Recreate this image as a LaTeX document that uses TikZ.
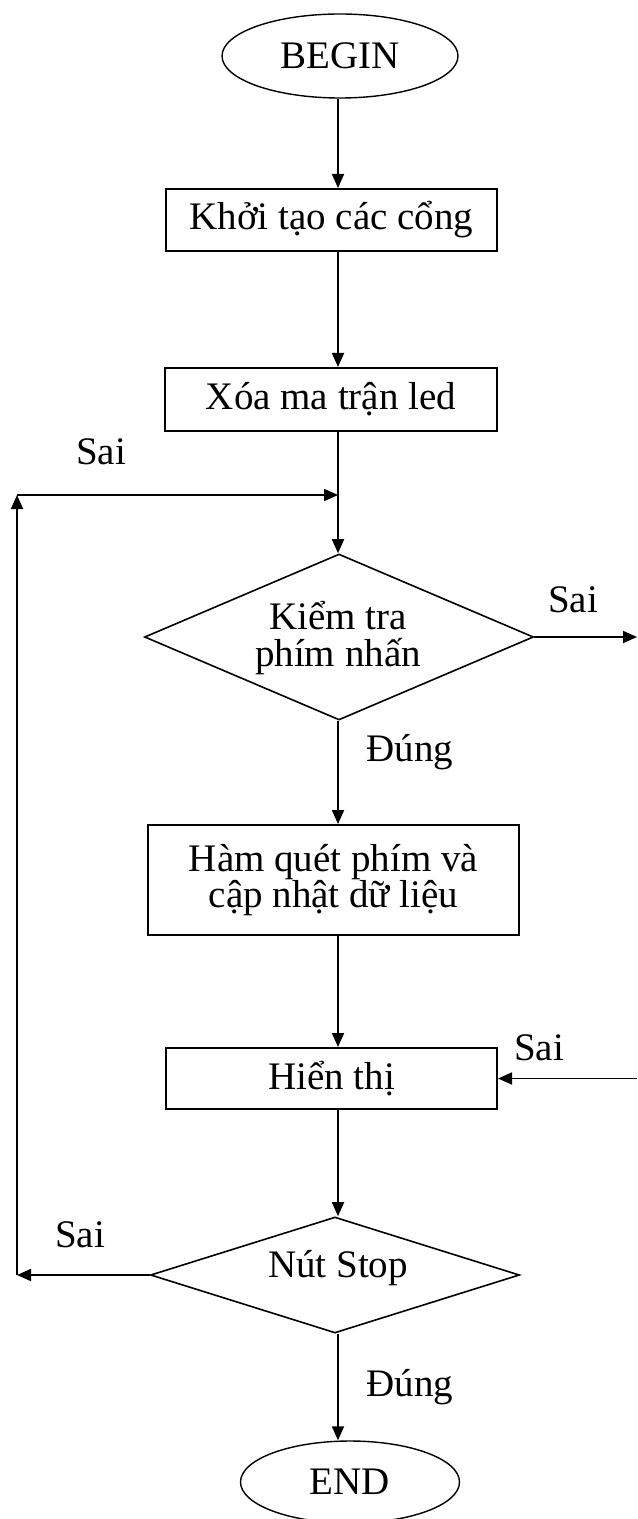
\documentclass[tikz,border=0pt]{standalone}
\usepackage{fontspec}
\setmainfont{Liberation Serif}
\usetikzlibrary{shapes.geometric,arrows.meta}
\begin{document}
\begin{tikzpicture}[x=0.5pt,y=-0.5pt,
  every node/.style={font=\fontsize{19.5}{21}\selectfont, inner sep=0pt},
  box/.style={draw, line width=1pt, align=center},
  term/.style={ellipse, draw, line width=0.7pt},
  decision/.style={diamond, draw, line width=0.8pt, align=center},
  arr/.style={-{Triangle[length=7pt,width=6pt]}, line width=0.9pt},
  lbl/.style={font=\fontsize{19.5}{21}\selectfont}]
\useasboundingbox (0,0) rectangle (637,1519);
% nodes
\node[term, minimum width=118pt, minimum height=42pt] (begin) at (340,56) {BEGIN};
\node[box, minimum width=165.5pt, minimum height=31pt] (b1) at (331.5,220) {Khởi tạo các cổng};
\node[box, minimum width=166pt, minimum height=31.5pt] (b2) at (331,399.5) {Xóa ma trận led};
\node[decision, minimum width=194.5pt, minimum height=83pt] (d1) at (339,637) {};
\node[font=\fontsize{19.5}{18.5}\selectfont, align=center] (d1t) at (338,638) {Kiểm tra\\phím nhấn};
\node[box, minimum width=185.5pt, minimum height=55pt, font=\fontsize{19.5}{18}\selectfont] (b3) at (333.5,880) {Hàm quét phím và\\cập nhật dữ liệu};
\node[box, minimum width=165.5pt, minimum height=30.5pt] (b4) at (331.5,1078.5) {Hiển thị};
\node[decision, minimum width=184.5pt, minimum height=58pt] (d2) at (335,1275) {};
\node (d2t) at (338,1268) {Nút Stop};
\node[term, minimum width=109.5pt, minimum height=41pt] (end) at (350,1482) {END};
% coordinates
\coordinate (ax1) at (338,495);
\coordinate (cT) at (17,495);
\coordinate (cL) at (17,1275);
\coordinate (rOut) at (637,637);
\coordinate (rIn) at (637,1078.5);
% connectors
\draw[arr] (begin.south -| ax1) -- (b1.north -| ax1);
\draw[arr] (b1.south -| ax1) -- (b2.north -| ax1);
\draw[arr] (b2.south -| ax1) -- (d1.north -| ax1);
\draw[arr] (d1.south -| ax1) -- (b3.north -| ax1);
\draw[arr] (b3.south -| ax1) -- (b4.north -| ax1);
\draw[arr] (b4.south -| ax1) -- (d2.north -| ax1);
\draw[arr] (d2.south -| ax1) -- (end.north -| ax1);
\draw[arr] (d1.east) -- (rOut);
\draw[arr] (rIn) -- (b4.east);
\draw[arr] (d2.west) -- (cL);
\draw[arr] (cL) -- (cT);
\draw[arr] (cT) -- (ax1);
% labels
\node[lbl] (s1) at (101,452) {Sai};
\node[lbl] (s2) at (573,600) {Sai};
\node[lbl] (e1) at (410,752) {Đúng};
\node[lbl] (s3) at (539,1048) {Sai};
\node[lbl] (s4) at (80,1235) {Sai};
\node[lbl] (e2) at (410,1387) {Đúng};
\end{tikzpicture}
\end{document}
